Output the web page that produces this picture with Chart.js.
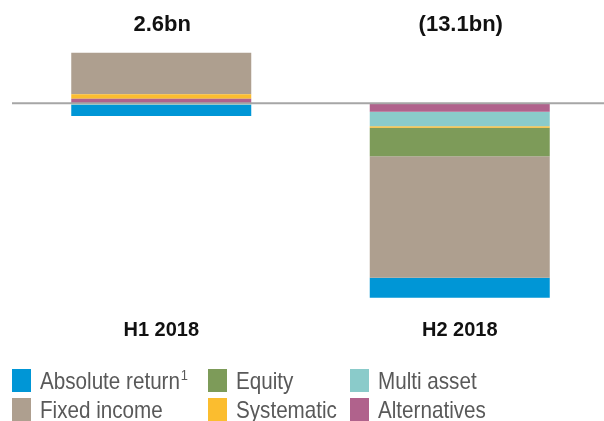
<!DOCTYPE html>
<html>
<head>
<meta charset="utf-8">
<script src="https://cdn.jsdelivr.net/npm/chart.js@4"></script>
<style>
    html, body { margin: 0; padding: 0; background: #fff; overflow: hidden; }
    body { width: 604px; height: 421px; position: relative; font-family: "Liberation Sans", Arial, sans-serif; }
    #wrap { position: absolute; left: 0; top: 0; width: 609px; height: 421px; }
    #legend { position: absolute; left: 0; top: 0; width: 604px; height: 421px; pointer-events: none; }
    .item { position: absolute; display: flex; align-items: center; height: 23px; }
    .box { width: 19px; height: 23px; margin-right: 9px; flex: none; }
    .label { display: inline-block; font-size: 24px; color: #595959; line-height: 23px; white-space: nowrap;
             transform: scaleX(0.86); transform-origin: left center; }
    .label sup { font-size: 15px; line-height: 0; vertical-align: 0; position: relative; top: -9px; margin-left: 1px; }
</style>
</head>
<body>
<div id="wrap"><canvas id="chart" width="609" height="421"></canvas></div>
<div id="legend"></div>
<script>
const categories = ['H1 2018', 'H2 2018'];
const totalLabels = ['2.6bn', '(13.1bn)'];

// bn
const alternatives = [0.31, -0.57];
const multiAsset = [-0.1, -0.97];
const systematic = [0.30, -0.11];
const equity = [0, -1.91];
const fixedIncome = [2.8, -8.2];
const absoluteReturn = [-0.75, -1.35];

const colors = {
    'Absolute return': '#0096d6',
    'Equity': '#7d9b59',
    'Multi asset': '#8acbca',
    'Fixed income': '#ae9f8f',
    'Systematic': '#fbbd2f',
    'Alternatives': '#b0628c'
};

// stacking order (from zero outward)
const series = [
    ['Alternatives', alternatives],
    ['Multi asset', multiAsset],
    ['Systematic', systematic],
    ['Equity', equity],
    ['Fixed income', fixedIncome],
    ['Absolute return', absoluteReturn]
];

const legendOrder = [
    ['Absolute return', 12, 369, true],
    ['Equity', 208, 369],
    ['Multi asset', 350, 369],
    ['Fixed income', 12, 398],
    ['Systematic', 208, 398],
    ['Alternatives', 350, 398]
];

const legendEl = document.getElementById('legend');
legendEl.innerHTML = legendOrder.map(([name, x, y, sup]) => `
    <div class="item" style="left:${x}px; top:${y}px;">
        <div class="box" style="background:${colors[name]}"></div>
        <span class="label">${name}${sup ? '<sup>1</sup>' : ''}</span>
    </div>`).join('');

const labelsPlugin = {
    id: 'labels',
    afterDatasetsDraw(chart) {
        const ctx = chart.ctx;
        const x = chart.scales.x;
        const y = chart.scales.y;
        const zero = y.getPixelForValue(0);

        ctx.save();
        ctx.strokeStyle = '#a6a6a6';
        ctx.lineWidth = 2;
        ctx.beginPath();
        ctx.moveTo(chart.chartArea.left, zero);
        ctx.lineTo(chart.chartArea.right, zero);
        ctx.stroke();

        ctx.fillStyle = '#111';
        ctx.textAlign = 'center';
        ctx.textBaseline = 'middle';
        categories.forEach((c, i) => {
            const cx = x.getPixelForValue(i);
            ctx.font = 'bold 22px "Liberation Sans", Arial, sans-serif';
            ctx.fillText(totalLabels[i], cx + 1, 25);
            ctx.font = 'bold 20px "Liberation Sans", Arial, sans-serif';
            ctx.fillText(c, cx, 330);
        });
        ctx.restore();
    }
};

new Chart(document.getElementById('chart'), {
    type: 'bar',
    data: {
        labels: categories,
        datasets: series.map(([name, data]) => ({
            label: name,
            data: data,
            backgroundColor: colors[name],
            borderWidth: 0,
            barPercentage: 0.603,
            categoryPercentage: 1
        }))
    },
    options: {
        responsive: false,
        animation: false,
        layout: { padding: { left: 12, right: 0, top: 44, bottom: 110 } },
        scales: {
            x: { stacked: true, display: false },
            y: { stacked: true, display: false, min: -14, max: 4 }
        },
        plugins: {
            legend: { display: false },
            tooltip: { enabled: false }
        }
    },
    plugins: [labelsPlugin]
});
</script>
</body>
</html>
